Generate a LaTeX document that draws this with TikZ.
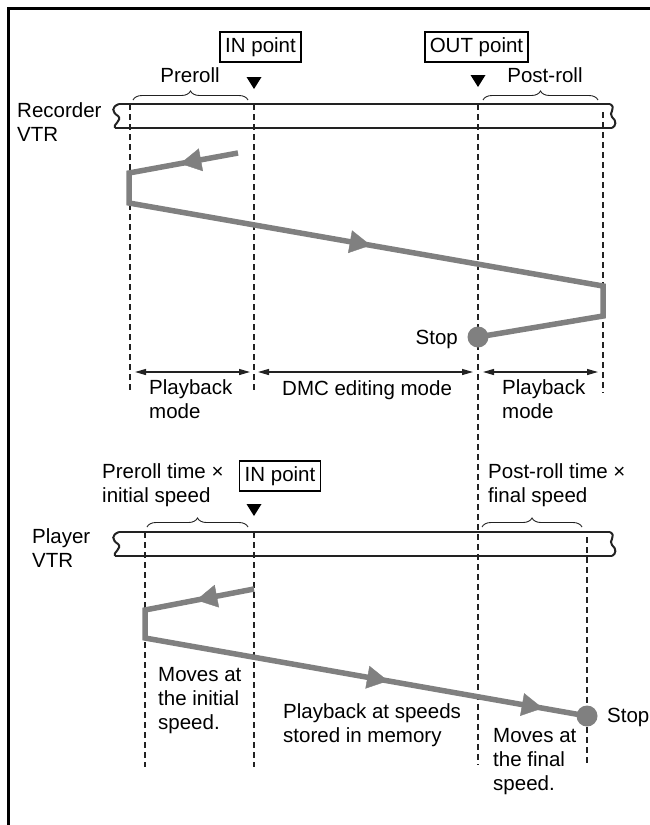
\documentclass[tikz,border=0pt]{standalone}
\usepackage{fontspec}
\setmainfont{Liberation Sans}
\usetikzlibrary{arrows.meta,decorations.pathreplacing,decorations.markings}
\definecolor{pathgray}{HTML}{808080}
\definecolor{inkdark}{HTML}{222222}

\tikzset{
  txt/.style={inner sep=0pt,anchor=base west,align=left},
  markbox/.style={draw=black,line width=1.5pt,inner xsep=5pt,inner ysep=0pt,
    minimum height=30pt,text height=15pt,text depth=4pt},
  guide/.style={inkdark,line width=1.1pt,dash pattern=on 6pt off 4pt},
  tape/.style={inkdark,line width=2pt},
  travel/.style={pathgray,line width=5.5pt,line join=miter},
  midarrow/.style={postaction={decorate},decoration={markings,
    mark=at position #1 with {\arrow{Triangle[length=21pt,width=23pt]}}}},
  span/.style={inkdark,line width=1.3pt,
    {Triangle[length=11pt,width=6pt]}-{Triangle[length=11pt,width=6pt]}},
  tapebrace/.style={inkdark,line width=0.9pt,decorate,
    decoration={brace,amplitude=9pt}},
  stopdot/.style={circle,fill=pathgray,minimum size=21pt,inner sep=0pt},
  cuemark/.style={fill=black}
}

\begin{document}
\begin{tikzpicture}[x=1pt,y=-1pt,font=\fontsize{20.5}{24}\selectfont]
  \useasboundingbox (0,0) rectangle (650,825);

  % Frame: only the top and left edges show.
  \draw[line width=2.6pt] (8.5,825) -- (8.5,8.5) -- (650,8.5);

  % Tape bands with wavy cut ends.
  \foreach \ty in {104,532} {
    \draw[tape] (119,\ty) -- (610,\ty);
    \draw[tape] (115,\ty+24) -- (612,\ty+24);
    \draw[tape] (119,\ty) .. controls (111,\ty+3) and (112,\ty+8) .. (118,\ty+12)
      .. controls (123,\ty+16) and (112,\ty+21) .. (115,\ty+24);
    \draw[tape] (610,\ty) .. controls (617,\ty+4) and (608,\ty+9) .. (612,\ty+13)
      .. controls (617,\ty+17) and (616,\ty+22) .. (612,\ty+24);
  }

  % Dashed guides.
  \foreach \x/\ya/\yb in {130/104/393,254/104/393,478/104/765,603/112/393,
                          145/532/767,254/532/767,587/537/765} {
    \draw[guide] (\x,\ya) -- (\x,\yb);
  }

  % Recorder VTR: labels, cue marks and braces.
  % (multi-line nodes sit on the baseline of their last line)
  \node[txt] (recvtr) at (17,141) {Recorder\\VTR};
  \node[markbox] (recin) at (260.5,47) {IN point};
  \node[markbox] (recout) at (476.5,47) {OUT point};
  \fill[cuemark] (246.5,77) -- (261.5,77) -- (254,89) -- cycle;
  \fill[cuemark] (470.5,75) -- (485.5,75) -- (478,87) -- cycle;
  \draw[tapebrace] (133,100) -- (248,100);
  \draw[tapebrace] (483,100) -- (598,100);
  \node[txt,anchor=base] (preroll) at (190,82) {Preroll};
  \node[txt,anchor=base] (postroll) at (545,82) {Post-roll};

  % Recorder travel.
  \coordinate (rec start) at (238,153);
  \coordinate (rec back) at (129,173);
  \coordinate (rec low) at (129,203);
  \coordinate (rec turn) at (603,286);
  \coordinate (rec rise) at (603,316);
  \node[stopdot] (rec stop) at (478,337) {};
  \draw[travel] (rec start) -- (rec back) -- (rec low) -- (rec turn)
    -- (rec rise) -- (rec stop.center);
  \path[pathgray,midarrow=0.53] (rec start) -- (rec back);
  \path[pathgray,midarrow=0.51] (rec low) -- (rec turn);
  \node[txt,anchor=base east] (recstoptxt) at (458,344) {Stop};

  % Mode spans.
  \foreach \a/\b/\n in {135/250/pbl,258/473/dmc,483/598/pbr} {
    \coordinate (\n w) at (\a,372);
    \coordinate (\n e) at (\b,372);
    \draw[span] (\n w) -- (\n e);
  }
  \node[txt] (pbltxt) at (149,418) {Playback\\mode};
  \node[txt] (dmctxt) at (282,395) {DMC editing mode};
  \node[txt] (pbrtxt) at (502,418) {Playback\\mode};

  % Player VTR: labels, cue mark and braces.
  \node[txt] (plyvtr) at (32,567) {Player\\VTR};
  \node[markbox] (plyin) at (280,476) {IN point};
  \fill[cuemark] (246.5,504) -- (261.5,504) -- (254,516) -- cycle;
  \draw[tapebrace] (147,527) -- (248,527);
  \draw[tapebrace] (482,527) -- (582,527);
  \node[txt] (pretime) at (102,502) {Preroll time ×\\initial speed};
  \node[txt] (posttime) at (488,502) {Post-roll time ×\\final speed};

  % Player travel.
  \coordinate (ply start) at (254,589);
  \coordinate (ply back) at (145,610);
  \coordinate (ply low) at (145,638);
  \node[stopdot] (ply stop) at (587,716) {};
  \draw[travel] (ply start) -- (ply back) -- (ply low) -- (ply stop.center);
  \path[pathgray,midarrow=0.53] (ply start) -- (ply back);
  \path[pathgray,midarrow=0.55] (ply low) -- (ply stop.center);
  \path[pathgray,midarrow=0.9] (ply low) -- (ply stop.center);
  \node[txt] (plystoptxt) at (607,722) {Stop};

  % Notes under the player tape.
  \node[txt] (initnote) at (158,729) {Moves at\\the initial\\speed.};
  \node[txt] (memnote) at (283,742) {Playback at speeds\\stored in memory};
  \node[txt] (finalnote) at (493,790) {Moves at\\the final\\speed.};
\end{tikzpicture}
\end{document}
